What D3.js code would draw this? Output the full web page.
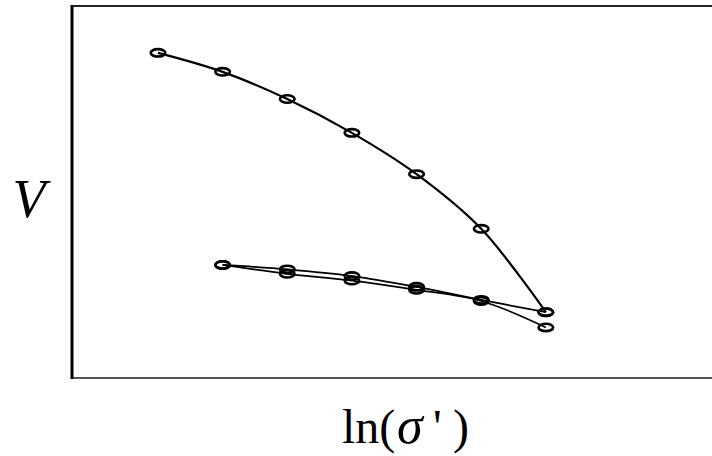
<!DOCTYPE html>
<html>
<head>
<meta charset="utf-8">
<script src="https://cdn.jsdelivr.net/npm/d3@7"></script>
<style>
  html, body { margin: 0; padding: 0; background: #fff; }
  svg { display: block; }
</style>
</head>
<body>
<svg id="chart" width="712" height="456"></svg>
<script>
// ln(sigma') at each load step
const lnStress = [3, 4, 5, 6, 7, 8, 9];

// Virgin compression: specific volume at each load step
const vLoading = [1.874, 1.823, 1.750, 1.659, 1.548, 1.401, 1.177];

// Unloading from the largest stress back to the second step (steps 7 -> 2)
const unloadX = [9, 8, 7, 6, 5, 4];
const vUnloading = [1.177, 1.210, 1.245, 1.274, 1.292, 1.304];

// Reloading from step 2 past the previous maximum (steps 2 -> 7)
const reloadX = [4, 5, 6, 7, 8, 9];
const vReloading = [1.304, 1.280, 1.262, 1.237, 1.207, 1.136];

const yLabel = "V";

const svg = d3.select("#chart");
const margin = { left: 72, right: 0, top: 6, bottom: 78 };
const W = 712, H = 456;

const x = d3.scaleLinear().domain([1.67, 11.57]).range([margin.left, W - margin.right]);
const y = d3.scaleLinear().domain([1.0, 2.0]).range([H - margin.bottom, margin.top]);

// frame: top rule, bottom axis, left axis
svg.append("line")
  .attr("x1", x(x.domain()[0])).attr("x2", W)
  .attr("y1", y(2.0)).attr("y2", y(2.0))
  .attr("stroke", "#222").attr("stroke-width", 2);
svg.append("line")
  .attr("x1", x(x.domain()[0])).attr("x2", W)
  .attr("y1", y(1.0)).attr("y2", y(1.0))
  .attr("stroke", "#555").attr("stroke-width", 2.2);
svg.append("line")
  .attr("x1", x(x.domain()[0])).attr("x2", x(x.domain()[0]))
  .attr("y1", y(2.0) - 1).attr("y2", y(1.0) + 1)
  .attr("stroke", "#000").attr("stroke-width", 3);

const line = d3.line()
  .x(d => x(d[0]))
  .y(d => y(d[1]))
  .curve(d3.curveCatmullRom.alpha(0.5));

const series = [
  { xs: lnStress, vs: vLoading, w: 2.2 },
  { xs: unloadX, vs: vUnloading, w: 1.7 },
  { xs: reloadX, vs: vReloading, w: 1.7 }
];

series.forEach(s => {
  const pts = s.xs.map((v, i) => [v, s.vs[i]]);
  svg.append("path")
    .datum(pts)
    .attr("d", line)
    .attr("fill", "none")
    .attr("stroke", "#000")
    .attr("stroke-width", s.w);
});

series.forEach(s => {
  const pts = s.xs.map((v, i) => [v, s.vs[i]]);
  svg.append("g").selectAll("ellipse")
    .data(pts)
    .join("ellipse")
    .attr("cx", d => x(d[0]))
    .attr("cy", d => y(d[1]))
    .attr("rx", 7.3)
    .attr("ry", 3.7)
    .attr("fill", "none")
    .attr("stroke", "#000")
    .attr("stroke-width", 2.6);
});

// axis titles
const serif = "'Liberation Serif', 'Times New Roman', serif";
svg.append("text")
  .attr("x", 29).attr("y", 217)
  .attr("text-anchor", "middle")
  .attr("font-family", serif)
  .attr("font-style", "italic")
  .attr("font-size", 54)
  .text(yLabel);

const xt = svg.append("text")
  .attr("y", 443)
  .attr("font-family", serif)
  .attr("font-size", 48);
xt.append("tspan").attr("x", 342).text("ln(");
xt.append("tspan").attr("x", 397).attr("font-style", "italic").attr("font-size", 52).text("σ");
xt.append("tspan").attr("x", 433).text("'");
xt.append("tspan").attr("x", 453).text(")");
</script>
</body>
</html>
